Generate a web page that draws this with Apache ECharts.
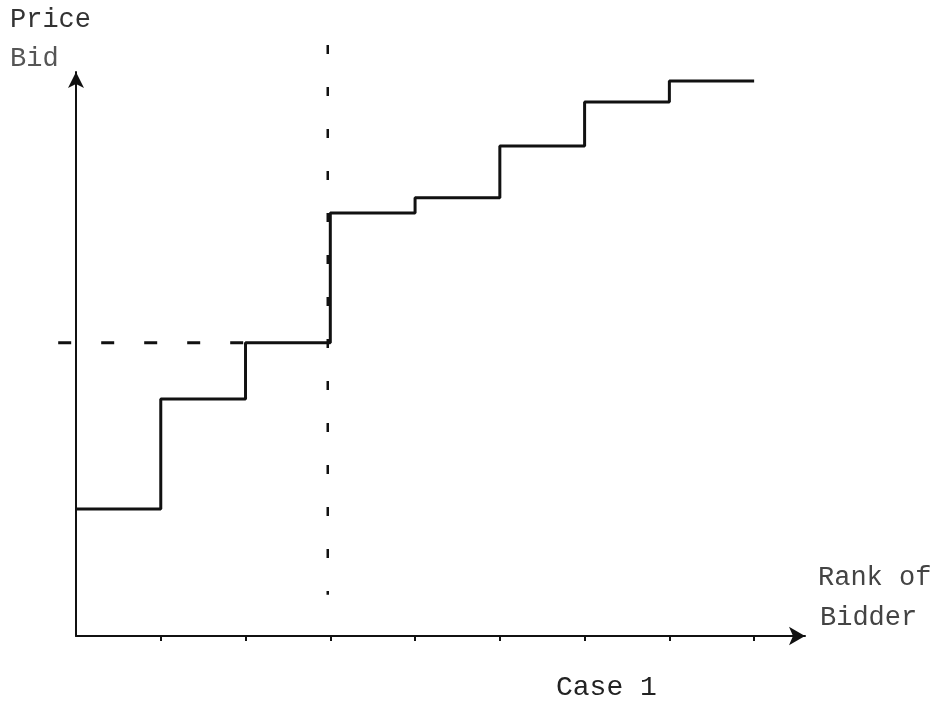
<!DOCTYPE html>
<html>
<head>
<meta charset="utf-8">
<script src="https://cdn.jsdelivr.net/npm/echarts@6/dist/echarts.min.js"></script>
<style>
html,body{margin:0;padding:0;background:#fff;}
#chart{width:946px;height:709px;}
</style>
</head>
<body>
<div id="chart"></div>
<script>
// Rank of bidder (step edges) and price bid level on each step (arbitrary units, 0-100 scale)
const rankEdges = [0, 1, 2, 3, 4, 5, 6, 7, 8];
const priceBid = [22.5, 42.0, 52.0, 75.0, 77.7, 86.9, 94.7, 98.4];
const tickRanks = [1, 2, 3, 4, 5, 6, 7, 8];
// reference lines: horizontal dashed at third bid level, vertical dashed at rank 3
const hDashX = [-0.21, 2];
const hDashLevel = 52.0;
const vDashRank = 2.97;
const vDashY = [104.8, 7.3];
const xMax = 8.6;
const yMax = 100;

const stepData = rankEdges.map((r, i) => [r, priceBid[Math.min(i, priceBid.length - 1)]]);

const ink = '#111';
const font = '"Liberation Mono", "DejaVu Sans Mono", monospace';

// main plot area (pixel layout)
const gLeft = 76, gRight = 141, gTop = 72, gBottom = 73;
const plotW = 946 - gLeft - gRight;
const pxPerRank = plotW / xMax;
// an overlay grid that reaches further left, sharing the same scale
const oLeft = 40;
const oMin = -(gLeft - oLeft) / pxPerRank;

const chart = echarts.init(document.getElementById('chart'));
chart.setOption({
  animation: false,
  backgroundColor: '#fff',
  grid: [
    { left: gLeft, right: gRight, top: gTop, bottom: gBottom },
    { left: oLeft, right: gRight, top: gTop, bottom: gBottom }
  ],
  xAxis: [
    {
      type: 'value', gridIndex: 0, min: 0, max: xMax, interval: 1,
      axisLine: { show: true, symbol: ['none', 'arrow'], symbolSize: [14, 16], lineStyle: { color: ink, width: 2 } },
      axisTick: { show: true, length: 5, customValues: tickRanks, lineStyle: { color: ink, width: 2 } },
      axisLabel: { show: false },
      splitLine: { show: false }
    },
    {
      type: 'value', gridIndex: 1, min: oMin, max: xMax, show: false,
      splitLine: { show: false }
    }
  ],
  yAxis: [
    {
      type: 'value', gridIndex: 0, min: 0, max: yMax,
      axisLine: { show: true, symbol: ['none', 'arrow'], symbolSize: [12, 16], lineStyle: { color: ink, width: 2 } },
      axisTick: { show: false },
      axisLabel: { show: false },
      splitLine: { show: false }
    },
    {
      type: 'value', gridIndex: 1, min: 0, max: yMax, show: false,
      splitLine: { show: false }
    }
  ],
  series: [
    {
      type: 'line', step: 'end', data: stepData, symbol: 'none',
      xAxisIndex: 0, yAxisIndex: 0,
      lineStyle: { color: ink, width: 3 }
    },
    {
      type: 'line', data: [[hDashX[0], hDashLevel], [hDashX[1], hDashLevel]], symbol: 'none', clip: false,
      xAxisIndex: 1, yAxisIndex: 1,
      lineStyle: { color: ink, width: 3, type: [13, 30] }
    },
    {
      type: 'line', data: [[vDashRank, vDashY[0]], [vDashRank, vDashY[1]]], symbol: 'none', clip: false,
      xAxisIndex: 1, yAxisIndex: 1,
      lineStyle: { color: ink, width: 2.5, type: [9, 33] }
    }
  ],
  graphic: [
    { type: 'text', left: 10, top: 6, style: { text: 'Price', font: '27px ' + font, fill: '#333' } },
    { type: 'text', left: 10, top: 45, style: { text: 'Bid', font: '27px ' + font, fill: '#555' } },
    { type: 'text', left: 818, top: 564, style: { text: 'Rank of', font: '27px ' + font, fill: '#444' } },
    { type: 'text', left: 820, top: 604, style: { text: 'Bidder', font: '27px ' + font, fill: '#444' } },
    { type: 'text', left: 556, top: 674, style: { text: 'Case 1', font: '28px ' + font, fill: '#222' } }
  ]
});
</script>
</body>
</html>
